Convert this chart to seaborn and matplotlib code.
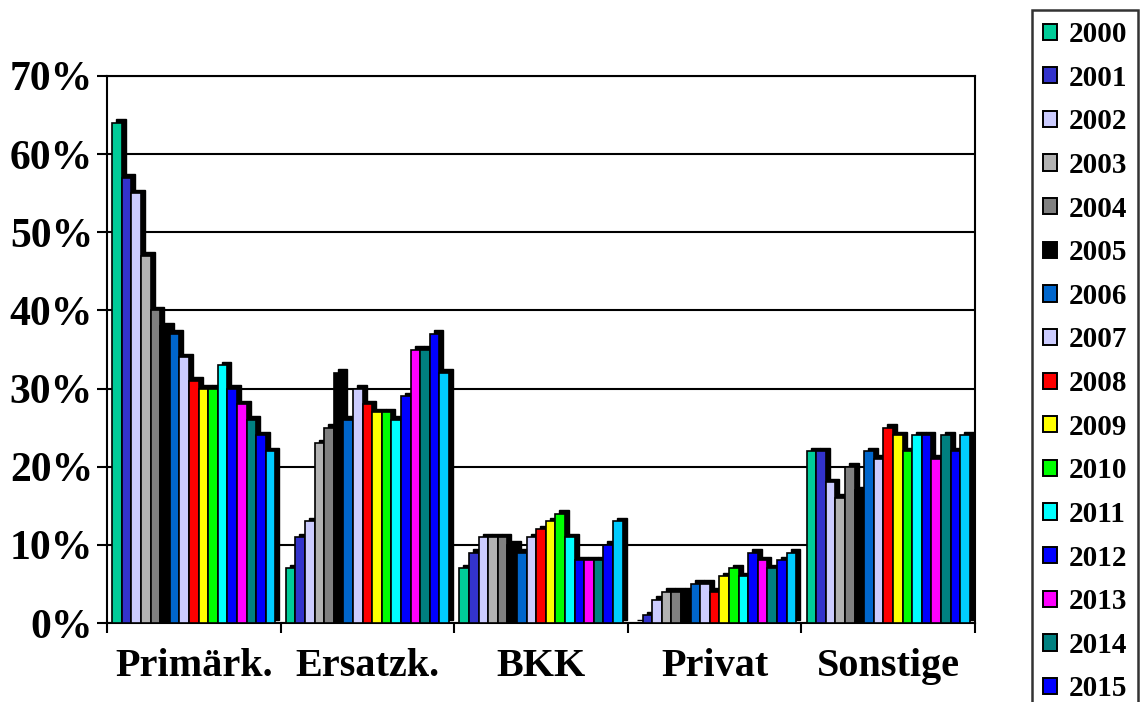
import matplotlib
matplotlib.use("Agg")
import matplotlib.pyplot as plt
import matplotlib.transforms as mtransforms
from matplotlib.patches import Rectangle
import seaborn as sns
import pandas as pd

# Share of members by insurer type, one bar per year
categories = ["Primärk.", "Ersatzk.", "BKK", "Privat", "Sonstige"]
years = [str(y) for y in range(2000, 2017)]

primaerk = [64, 57, 55, 47, 40, 38, 37, 34, 31, 30, 30, 33, 30, 28, 26, 24, 22]
ersatzk = [7, 11, 13, 23, 25, 32, 26, 30, 28, 27, 27, 26, 29, 35, 35, 37, 32]
bkk = [7, 9, 11, 11, 11, 10, 9, 11, 12, 13, 14, 11, 8, 8, 8, 10, 13]
privat = [0, 1, 3, 4, 4, 4, 5, 5, 4, 6, 7, 6, 9, 8, 7, 8, 9]
sonstige = [22, 22, 18, 16, 20, 17, 22, 21, 25, 24, 22, 24, 24, 21, 24, 22, 24]

year_colors = ["#00CC99", "#3333CC", "#CCCCFF", "#B2B2B2", "#808080", "#000000",
               "#0066CC", "#CCCCFF", "#FF0000", "#FFFF00", "#00FF00", "#00FFFF",
               "#0000FF", "#FF00FF", "#008080", "#0000FF", "#00CCFF"]

# the legend box runs off the bottom of the figure after 2015
legend_years = years[:16]

series = [primaerk, ersatzk, bkk, privat, sonstige]
rows = []
for cat, vals in zip(categories, series):
    for yr, v in zip(years, vals):
        rows.append({"cat": cat, "year": yr, "val": v})
df = pd.DataFrame(rows)

sns.set_style("white")
plt.rcParams["font.family"] = ["Liberation Serif", "DejaVu Serif"]
plt.rcParams["font.weight"] = "bold"
plt.rcParams["text.color"] = "black"
plt.rcParams["xtick.color"] = "black"
plt.rcParams["ytick.color"] = "black"
plt.rcParams["xtick.labelcolor"] = "black"
plt.rcParams["ytick.labelcolor"] = "black"

fig = plt.figure(figsize=(11.41, 7.02), dpi=100)
ax = fig.add_axes([107 / 1141, 1 - 623 / 702, (975 - 107) / 1141, (623 - 76) / 702])

sns.barplot(data=df, x="cat", y="val", hue="year", order=categories,
            hue_order=years, palette=year_colors, saturation=1, width=0.94,
            edgecolor="black", linewidth=1.2, legend=False, ax=ax,
            zorder=3)

# depth faces: a dark copy of each bar shifted up and to the right
shift = mtransforms.offset_copy(ax.transData, fig=fig, x=4, y=3.5, units="dots")
for bar in list(ax.patches):
    if not isinstance(bar, Rectangle):
        continue
    x, y = bar.get_xy()
    w, h = bar.get_width(), bar.get_height()
    depth = Rectangle((x, y), w, h, transform=shift, facecolor="#000000",
                      edgecolor="#000000", linewidth=1.0, zorder=2)
    ax.add_patch(depth)

ax.set_xlim(-0.5, 4.5)
ax.set_ylim(0, 70)
ax.set_yticks(range(0, 71, 10))
ax.set_yticklabels([f"{v}%" for v in range(0, 71, 10)])
ax.yaxis.grid(True, color="black", linewidth=1.5, zorder=0)
ax.set_axisbelow(True)
ax.set_xlabel("")
ax.set_ylabel("")

ax.set_xticks([i - 0.5 for i in range(6)], minor=True)
ax.tick_params(axis="x", which="major", length=0, pad=18, labelsize=29)
ax.tick_params(axis="x", which="minor", length=7, width=1.5, color="black",
               direction="out", bottom=True)
ax.tick_params(axis="y", which="major", length=7, width=1.5, color="black",
               direction="out", left=True, pad=3, labelsize=30)
for lab in ax.get_xticklabels() + ax.get_yticklabels():
    lab.set_fontweight("bold")
    lab.set_color("black")

for side in ["left", "right", "top", "bottom"]:
    ax.spines[side].set_visible(True)
    ax.spines[side].set_color("black")
    ax.spines[side].set_linewidth(1.5)

handles = [Rectangle((0, 0), 1, 1, facecolor=c, edgecolor="black", linewidth=1.4)
           for c in year_colors[:len(legend_years)]]
leg = fig.legend(handles, legend_years, loc="upper left",
                 bbox_to_anchor=(1032 / 1141, 1 - 10 / 702),
                 frameon=True, fancybox=False, shadow=False,
                 prop={"family": "Liberation Serif", "weight": "bold", "size": 21},
                 handlelength=0.48, handleheight=0.48, handletextpad=0.4,
                 labelspacing=0.57, borderpad=0.38, borderaxespad=0)
leg.get_frame().set_edgecolor("black")
leg.get_frame().set_linewidth(1.8)
for t in leg.get_texts():
    t.set_color("black")

fig.savefig("out.png", dpi=100)
